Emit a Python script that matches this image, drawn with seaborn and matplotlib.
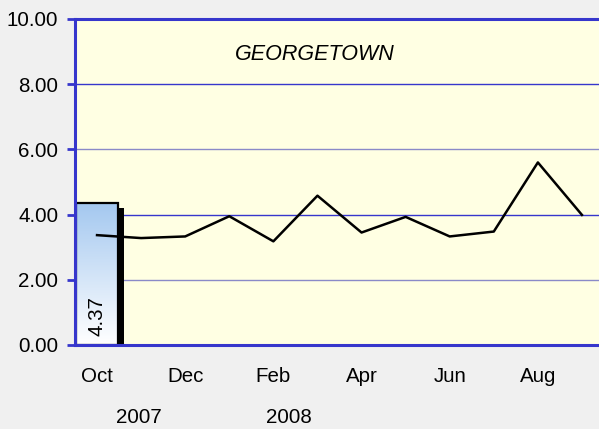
import numpy as np
import pandas as pd
import seaborn as sns
import matplotlib.pyplot as plt
import matplotlib.patheffects as pe
from matplotlib.colors import LinearSegmentedColormap

# monthly values, Oct 2007 - Sep 2008
months = ['Oct', 'Nov', 'Dec', 'Jan', 'Feb', 'Mar', 'Apr', 'May', 'Jun', 'Jul', 'Aug', 'Sep']
line_values = [3.37, 3.28, 3.33, 3.95, 3.18, 4.58, 3.45, 3.93, 3.33, 3.48, 5.60, 3.99]
bar_month = ['Oct']
bar_values = [4.37]
tick_months = ['Oct', 'Dec', 'Feb', 'Apr', 'Jun', 'Aug']
years = ['2007', '2008']
year_pos = [0.95, 4.35]
y_ticks = [0, 2, 4, 6, 8, 10]
title = 'GEORGETOWN'

BLUE = '#3636cc'
plt.rcParams['font.family'] = ['Liberation Sans', 'DejaVu Sans']
FS = 14.8

fig = plt.figure(figsize=(5.99, 4.29), dpi=100, facecolor='#f0f0f0')
ax = fig.add_axes([75 / 599, 84 / 429, 529 / 599, 326 / 429])
ax.set_facecolor('#ffffe3')

bar_df = pd.DataFrame({'month': bar_month, 'value': bar_values})
line_df = pd.DataFrame({'pos': np.arange(len(months)), 'value': line_values})

# bar with shadow, then gradient fill, then outline
sns.barplot(data=bar_df, x='month', y='value', order=months, width=0.95,
            color='white', saturation=1, linewidth=0, ax=ax, zorder=2)
bar = ax.patches[0]
bar.set_path_effects([pe.SimplePatchShadow(offset=(4, -4), shadow_rgbFace='black', alpha=1), pe.Normal()])

grad_cmap = LinearSegmentedColormap.from_list('g', ['white', '#a4c8f0'])
x0, w, h = bar.get_x(), bar.get_width(), bar.get_height()
im = ax.imshow(np.linspace(1, 0, 100).reshape(-1, 1), cmap=grad_cmap, aspect='auto',
               extent=[x0, x0 + w, 0, h], zorder=2.1)
im.set_clip_path(bar)

sns.barplot(data=bar_df, x='month', y='value', order=months, width=0.95,
            fill=False, edgecolor='black', linewidth=1.6, ax=ax, zorder=2.2)

ax.text(0, 0.28, f'{bar_values[0]:.2f}', rotation=90, ha='center', va='bottom',
        fontsize=FS, zorder=2.5)

sns.lineplot(data=line_df, x='pos', y='value', color='black', linewidth=1.8, ax=ax, zorder=3)

ax.set_xlim(-0.5, 11.5)
ax.set_ylim(0, 10)
ax.set_yticks(y_ticks, [f'{v:.2f}' for v in y_ticks], fontsize=FS)
ax.set_xticks([months.index(m) for m in tick_months], tick_months, fontsize=FS)
ax.tick_params(axis='x', length=0, pad=16)
ax.tick_params(axis='y', length=6, width=2, color=BLUE, pad=6)
ax.set_xlabel('')
ax.set_ylabel('')

ax.yaxis.grid(True)
for i, gl in enumerate(ax.get_ygridlines()):
    gl.set_color(BLUE if i % 2 == 0 else '#8a8ac8')
    gl.set_linewidth(1)
ax.set_axisbelow(True)

for side in ['left', 'bottom', 'top']:
    ax.spines[side].set_color(BLUE)
    ax.spines[side].set_linewidth(2.2)
ax.spines['right'].set_visible(False)

ax.text(0.454, 0.89, title, transform=ax.transAxes, ha='center', va='center',
        fontsize=15.5, style='italic')

for yr, xp in zip(years, year_pos):
    ax.text(xp, -0.222, yr, transform=ax.get_xaxis_transform(), ha='center', va='center',
            fontsize=FS)

fig.savefig('out.png', dpi=100, facecolor=fig.get_facecolor())
